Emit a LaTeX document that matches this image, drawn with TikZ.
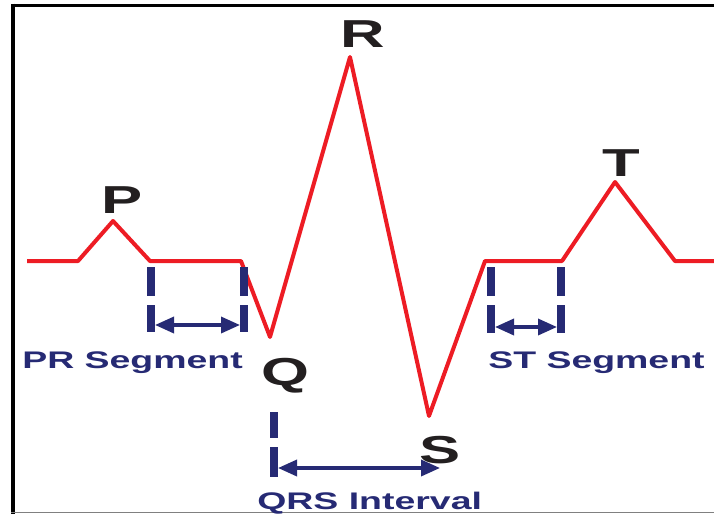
\documentclass[tikz,border=0pt]{standalone}
\usepackage{fontspec}
\setmainfont{Liberation Sans}
\usetikzlibrary{arrows.meta}
\definecolor{ecgred}{HTML}{ED1C24}
\definecolor{ecgblue}{HTML}{262A74}
\definecolor{ecgblack}{HTML}{231F20}
\tikzset{
  wave/.style={ecgred,line width=4pt,line join=round},
  marker/.style={ecgblue,line width=8pt},
  span/.style={ecgblue,line width=3.5pt,{Triangle[length=19pt,width=16pt]}-{Triangle[length=19pt,width=16pt]}},
  peak/.style={ecgblack,font=\bfseries\fontsize{39}{39}\selectfont,xscale=1.58,anchor=base,inner sep=0pt},
  seglabel/.style={ecgblue,font=\bfseries\fontsize{24}{24}\selectfont,xscale=1.56,anchor=base west,inner sep=0pt}
}
\begin{document}
\begin{tikzpicture}[x=1pt,y=-1pt]
\useasboundingbox (0,0) rectangle (714,514);
% frame
\draw[black,line width=3pt](11,5)--(714,5);
\draw[black,line width=4.5pt](13,3.5)--(13,514);
\draw[gray,line width=1.5pt](11,512.5)--(714,512.5);
% trace
\coordinate (start) at (27,261);
\coordinate (p0) at (78,261);
\coordinate (ptop) at (113,221);
\coordinate (p1) at (150,261);
\coordinate (q0) at (241,261);
\coordinate (qbot) at (270,337);
\coordinate (rtop) at (350,57);
\coordinate (sbot) at (429,416);
\coordinate (s1) at (485,261);
\coordinate (t0) at (562,261);
\coordinate (ttop) at (615,182);
\coordinate (t1) at (675,261);
\coordinate (stop) at (714,261);
\draw[wave](start)--(p0)--(ptop)--(p1)--(q0)--(qbot)--(rtop)--(sbot)--(s1)--(t0)--(ttop)--(t1)--(stop);
% wave letters
\node[peak] (lblP) at (122,213){P};
\node[peak] (lblQ) at (285,385){Q};
\node[peak] (lblR) at (363,47){R};
\node[peak] (lblS) at (440,463){S};
\node[peak] (lblT) at (621,176){T};
% PR segment
\draw[marker,dash pattern=on 29pt off 9pt on 27pt](151,267)--(151,332);
\draw[marker,dash pattern=on 29pt off 9pt on 27pt](244,267)--(244,332);
\coordinate (prA) at (155,325);
\coordinate (prB) at (240,325);
\draw[span](prA)--(prB);
\node[seglabel] (lblPR) at (22,368){PR Segment};
% QRS interval
\draw[marker,dash pattern=on 26pt off 9pt on 30pt](274,412)--(274,477);
\coordinate (qrsA) at (278,468);
\coordinate (qrsB) at (440,468);
\draw[span](qrsA)--(qrsB);
\node[seglabel] (lblQRS) at (257,509){QRS Interval};
% ST segment
\draw[marker,dash pattern=on 29pt off 9pt on 28pt](491,267)--(491,333);
\draw[marker,dash pattern=on 29pt off 9pt on 28pt](561,267)--(561,333);
\coordinate (stA) at (495,327);
\coordinate (stB) at (557,327);
\draw[span](stA)--(stB);
\node[seglabel] (lblST) at (488,368){ST Segment};
\end{tikzpicture}
\end{document}
